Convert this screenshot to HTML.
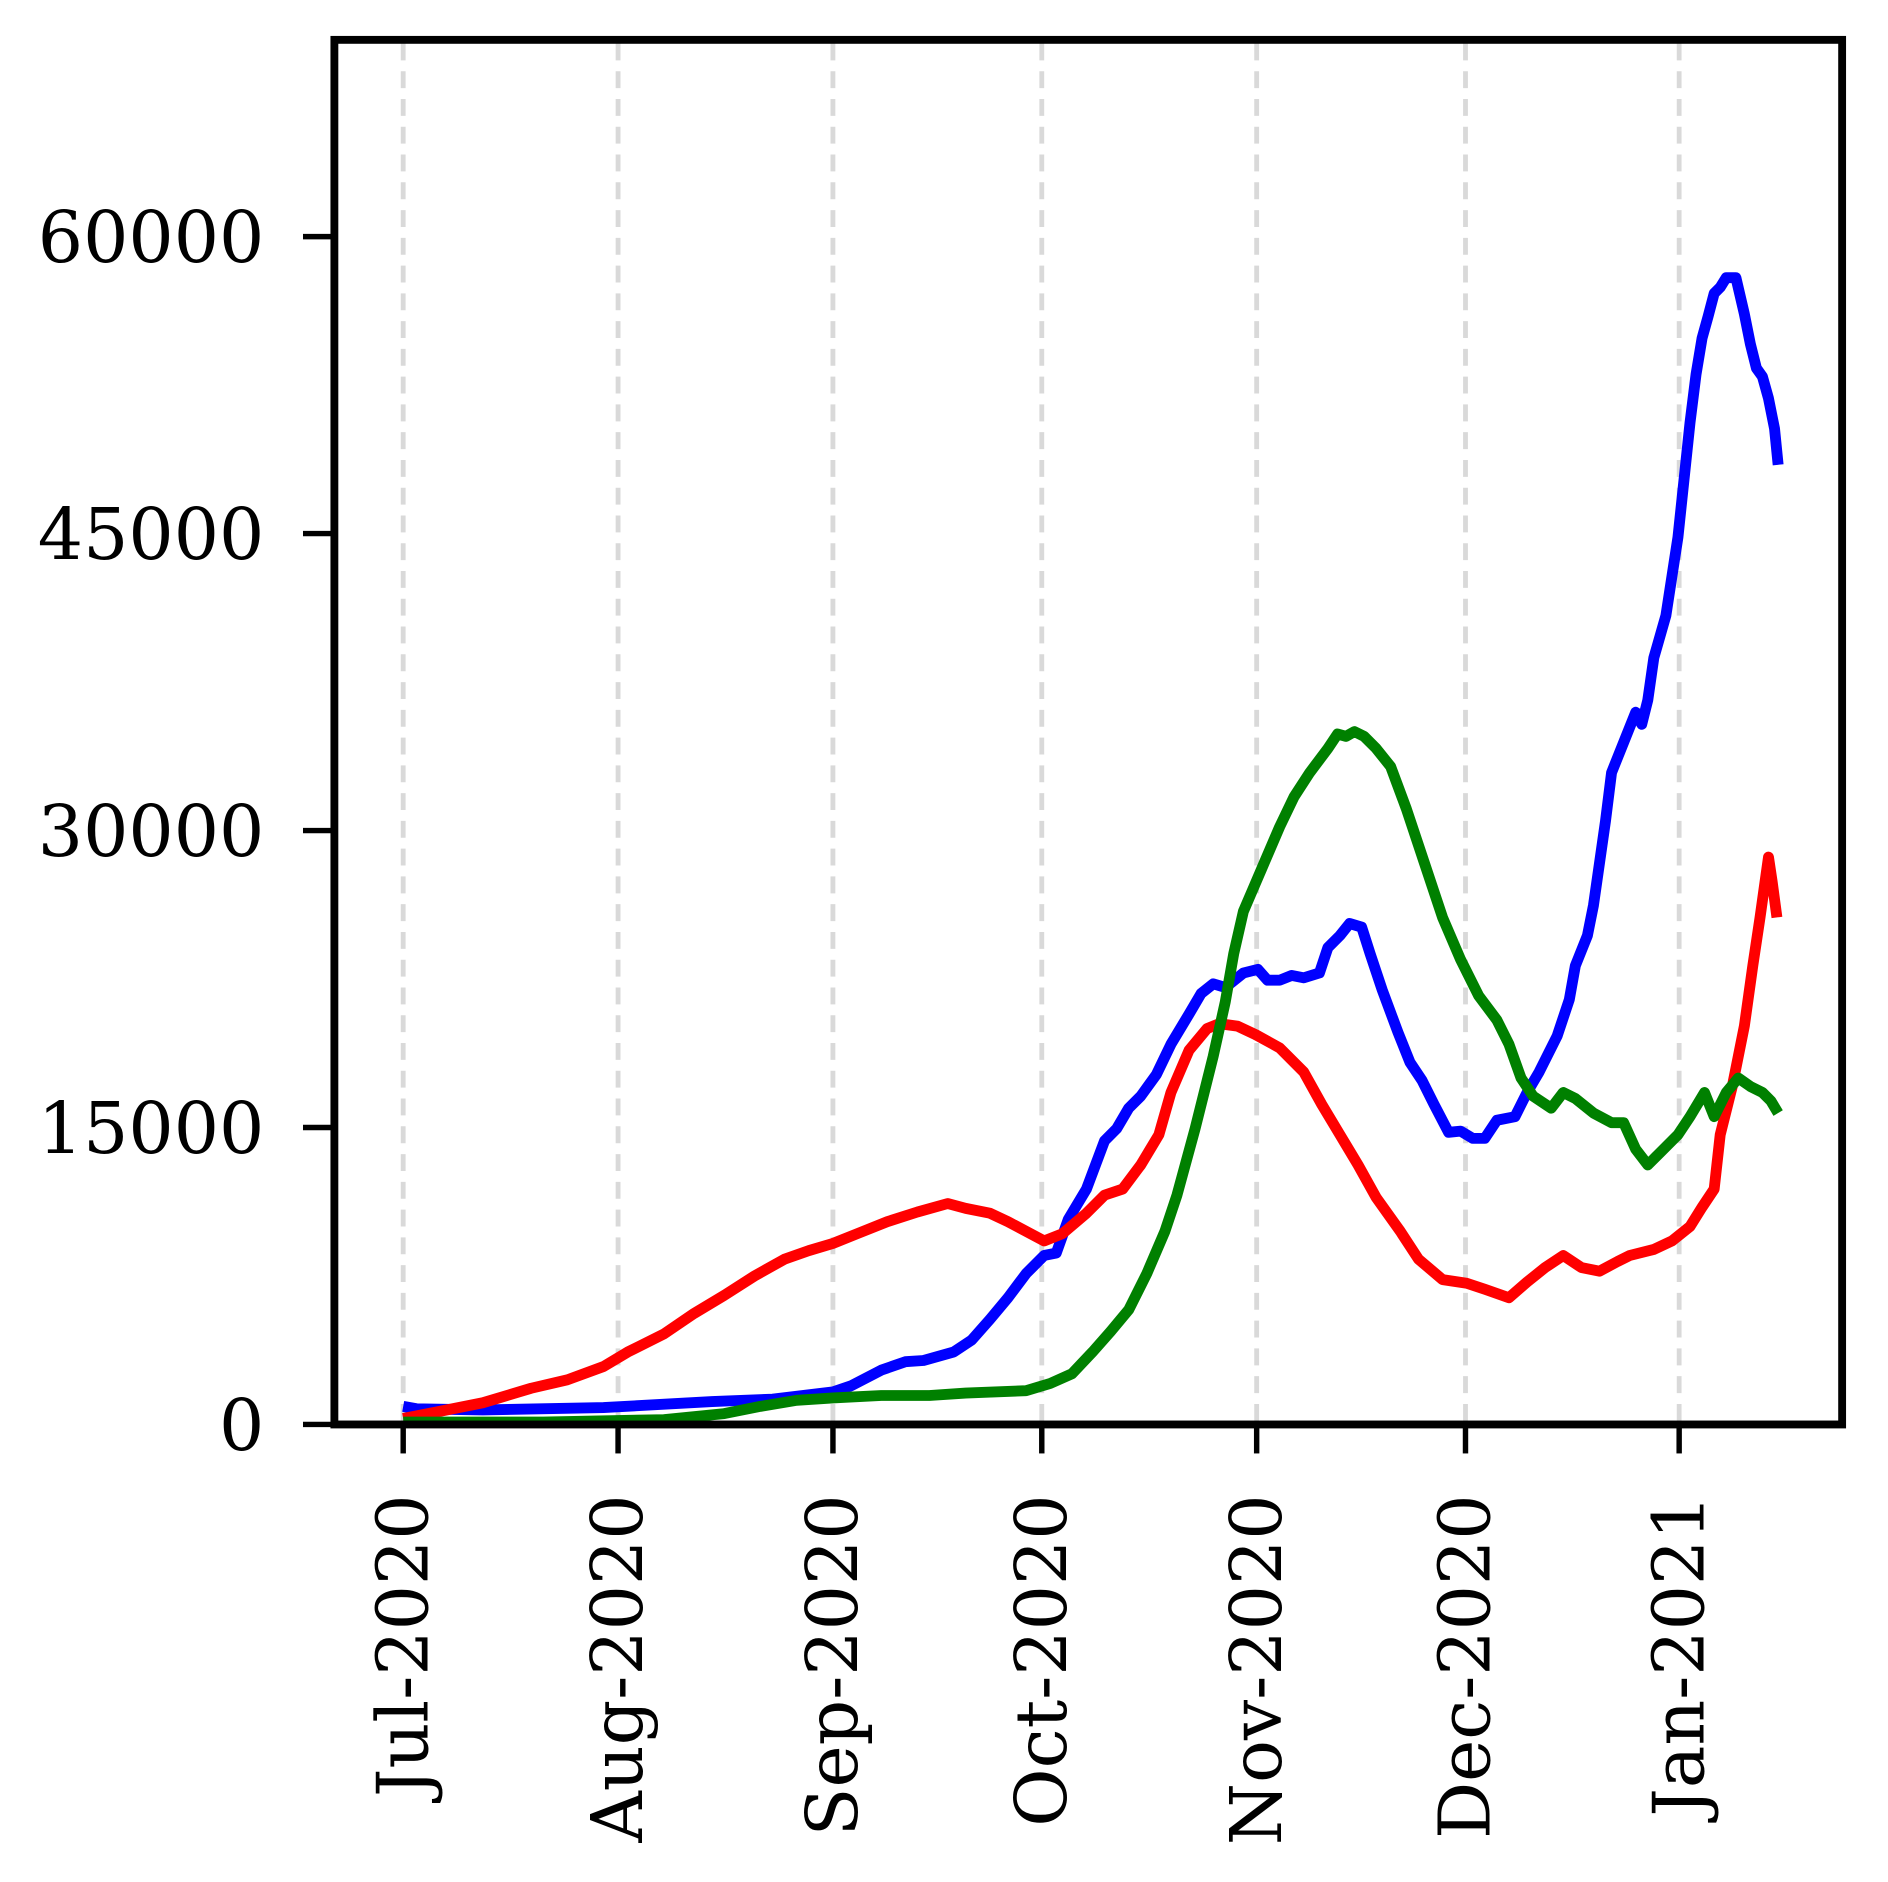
<!DOCTYPE html>
<html><head><style>
html,body{margin:0;padding:0;background:#fff;}
svg{display:block;}
text{font-family:"DejaVu Serif","Liberation Serif",serif;font-size:59px;fill:#000;}
</style></head><body>
<svg width="1888" height="1882" viewBox="0 0 1564 1559" xmlns="http://www.w3.org/2000/svg">
<g stroke="#d9d9d9" stroke-width="4" stroke-dasharray="14,9">
<line x1="334" y1="36" x2="334" y2="1180"/>
<line x1="512" y1="36" x2="512" y2="1180"/>
<line x1="690" y1="36" x2="690" y2="1180"/>
<line x1="863" y1="36" x2="863" y2="1180"/>
<line x1="1041" y1="36" x2="1041" y2="1180"/>
<line x1="1214" y1="36" x2="1214" y2="1180"/>
<line x1="1391" y1="36" x2="1391" y2="1180"/>
</g>
<g fill="none" stroke-width="9" stroke-linejoin="round" stroke-linecap="butt">
<polyline stroke="#0000ff" points="334,1165 345,1167 400,1168 500,1166 590,1161 640,1159 690,1153 705,1148 730,1135 750,1128 765,1127 790,1120 805,1110 820,1093 835,1075 850,1055 865,1040 875,1038 885,1010 900,985 915,945 925,935 935,918 945,908 958,890 970,865 985,840 995,823 1005,815 1015,818 1030,806 1042,803 1050,812 1060,812 1070,808 1080,810 1093,806 1100,785 1110,775 1118,765 1128,768 1135,790 1145,820 1158,855 1168,880 1178,895 1188,915 1200,938 1210,937 1220,943 1230,943 1240,928 1255,925 1265,905 1275,888 1290,858 1300,828 1305,800 1315,775 1320,750 1330,680 1335,640 1345,615 1355,590 1360,600 1365,580 1370,545 1380,510 1390,445 1400,350 1405,310 1410,280 1415,262 1420,243 1425,238 1430,230 1438,230 1445,260 1450,285 1455,305 1460,312 1465,330 1470,355 1473,385"/>
<polyline stroke="#ff0000" points="334,1175 360,1170 400,1162 440,1150 470,1143 500,1132 520,1120 550,1105 575,1088 600,1073 625,1057 650,1043 670,1036 690,1030 710,1022 735,1012 760,1004 785,997 800,1001 820,1005 835,1012 850,1020 865,1028 880,1022 900,1005 915,990 930,985 945,965 960,940 970,905 985,870 1000,852 1010,848 1025,850 1040,857 1060,868 1080,888 1095,915 1110,940 1125,965 1140,992 1160,1020 1175,1043 1195,1060 1215,1063 1230,1068 1250,1075 1265,1062 1280,1050 1295,1040 1310,1050 1325,1053 1340,1045 1350,1040 1370,1035 1385,1028 1400,1016 1410,1000 1420,985 1425,940 1435,900 1445,850 1452,800 1458,760 1465,710 1468,730 1472,760"/>
<polyline stroke="#008000" points="334,1178 450,1178 550,1176 600,1171 630,1165 660,1160 690,1158 730,1156 770,1156 800,1154 850,1152 870,1146 888,1138 905,1120 920,1103 935,1085 950,1055 965,1020 975,990 990,935 1005,875 1015,830 1022,790 1030,755 1045,720 1060,685 1072,660 1085,640 1100,620 1108,608 1115,610 1122,606 1130,610 1140,620 1152,635 1165,670 1180,715 1195,760 1210,795 1225,825 1240,845 1250,865 1260,893 1270,908 1285,918 1295,905 1305,910 1320,922 1335,930 1345,930 1355,952 1365,965 1375,955 1390,940 1400,925 1412,905 1420,925 1430,905 1440,893 1450,900 1460,905 1467,912 1473,922"/>
</g>
<rect x="277" y="33" width="1249" height="1147" fill="none" stroke="#000" stroke-width="6.5"/>
<g stroke="#000" stroke-width="4.5">
<line x1="251" y1="1180" x2="277" y2="1180"/>
<line x1="251" y1="934" x2="277" y2="934"/>
<line x1="251" y1="688" x2="277" y2="688"/>
<line x1="251" y1="442" x2="277" y2="442"/>
<line x1="251" y1="196" x2="277" y2="196"/>
<line x1="334" y1="1180" x2="334" y2="1204"/>
<line x1="512" y1="1180" x2="512" y2="1204"/>
<line x1="690" y1="1180" x2="690" y2="1204"/>
<line x1="863" y1="1180" x2="863" y2="1204"/>
<line x1="1041" y1="1180" x2="1041" y2="1204"/>
<line x1="1214" y1="1180" x2="1214" y2="1204"/>
<line x1="1391" y1="1180" x2="1391" y2="1204"/>
</g>
<g text-anchor="end">
<text x="219" y="1201">0</text>
<text x="219" y="955">15000</text>
<text x="219" y="709">30000</text>
<text x="219" y="463">45000</text>
<text x="219" y="217">60000</text>
</g>
<g text-anchor="end">
<text transform="translate(354,1238) rotate(-90)">Jul-2020</text>
<text transform="translate(532,1238) rotate(-90)">Aug-2020</text>
<text transform="translate(710,1238) rotate(-90)">Sep-2020</text>
<text transform="translate(883,1238) rotate(-90)">Oct-2020</text>
<text transform="translate(1061,1238) rotate(-90)">Nov-2020</text>
<text transform="translate(1234,1238) rotate(-90)">Dec-2020</text>
<text transform="translate(1411,1238) rotate(-90)">Jan-2021</text>
</g>
</svg>
</body></html>
